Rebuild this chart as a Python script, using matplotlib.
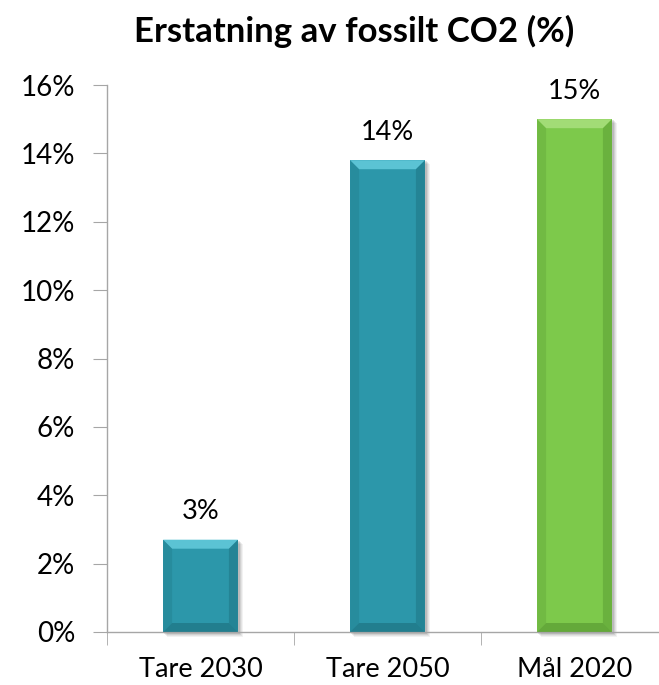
import matplotlib
matplotlib.use("Agg")
import matplotlib.pyplot as plt
from matplotlib.patches import Polygon
from matplotlib.ticker import FuncFormatter, FixedLocator
import numpy as np

categories = ["Tare 2030", "Tare 2050", "Mål 2020"]
values = [2.7, 13.8, 15.0]
bar_colors = ["#2C97AA", "#2C97AA", "#7DC94B"]
light_colors = ["#5BC3D4", "#5BC3D4", "#A2DC76"]
dark_colors = ["#145A66", "#145A66", "#3F7A22"]
title = "Erstatning av fossilt CO2 (%)"
y_ticks = [0, 2, 4, 6, 8, 10, 12, 14, 16]

plt.rcParams["font.family"] = ["Lato", "DejaVu Sans"]

fig = plt.figure(figsize=(6.59, 6.85), dpi=100)
ax = fig.add_axes([107 / 659, 1 - 632 / 685, (668 - 107) / 659, (632 - 85) / 685])

x = np.arange(len(categories))
width = 0.4
bars = ax.bar(x, values, width=width, color=bar_colors, zorder=2)

ax.set_xlim(-0.5, len(categories) - 0.5)
ax.set_ylim(0, 16)
ax.set_yticks(y_ticks)
ax.yaxis.set_major_formatter(FuncFormatter(lambda v, p: f"{v:.0f}%"))
ax.set_xticks(x)
ax.set_xticklabels(categories)
ax.xaxis.set_minor_locator(FixedLocator(np.arange(-0.5, len(categories), 1.0)))

grey = "#A6A6A6"
for side in ("top", "right"):
    ax.spines[side].set_visible(False)
for side in ("left", "bottom"):
    ax.spines[side].set_color(grey)
    ax.spines[side].set_linewidth(1.0)

ax.tick_params(axis="y", length=10, color=grey, labelsize=20, pad=13)
ax.tick_params(axis="x", which="major", length=0, labelsize=19.5, pad=18)
ax.tick_params(axis="x", which="minor", length=9, color=grey)

fig.canvas.draw()
to_data = ax.transData.inverted()
px = ax.transData

# Bevelled bar faces: light top wedge, darker sides and bottom, soft shadow behind
bev = 9
for rect, light, dark in zip(bars, light_colors, dark_colors):
    x0, y0 = rect.get_x(), rect.get_y()
    x1, y1 = x0 + rect.get_width(), y0 + rect.get_height()
    (X0, Y0), (X1, Y1) = px.transform([(x0, y0), (x1, y1)])
    b = min(bev, (Y1 - Y0) / 2)

    def poly(pts, color, alpha=1.0, z=3):
        d = to_data.transform(pts)
        ax.add_patch(Polygon(d, closed=True, facecolor=color, edgecolor="none",
                             alpha=alpha, zorder=z, clip_on=False))

    for k, a in ((5, 0.05), (4, 0.06), (3, 0.08), (2, 0.10)):
        poly([(X0 + k - 1, Y0 - k), (X1 + k, Y0 - k), (X1 + k, Y1 - k + 1), (X0 + k - 1, Y1 - k + 1)],
             "#000000", a, z=1.5)
    poly([(X0, Y1), (X1, Y1), (X1 - b, Y1 - b), (X0 + b, Y1 - b)], light)
    poly([(X0, Y0), (X0, Y1), (X0 + b, Y1 - b), (X0 + b, Y0 + b)], dark, 0.18)
    poly([(X1, Y0), (X1, Y1), (X1 - b, Y1 - b), (X1 - b, Y0 + b)], dark, 0.30)
    poly([(X0, Y0), (X1, Y0), (X1 - b, Y0 + b), (X0 + b, Y0 + b)], dark, 0.40)

for rect, v in zip(bars, values):
    ax.annotate(f"{v:.0f}%", (rect.get_x() + rect.get_width() / 2, v),
                xytext=(0, 11), textcoords="offset points", ha="center", va="bottom",
                fontsize=19.5, zorder=4)

fig.text(354 / 659, 1 - 31 / 685, title, ha="center", va="center",
         fontsize=25, fontweight="bold")

fig.savefig("out.png", dpi=100)
